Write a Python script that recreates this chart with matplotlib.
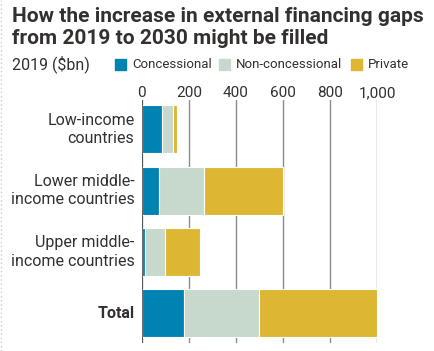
import matplotlib
matplotlib.use('Agg')
import matplotlib.pyplot as plt
from matplotlib.patches import Rectangle

categories = ['Low-income\ncountries', 'Lower middle-\nincome countries',
              'Upper middle-\nincome countries', 'Total']
concessional = [88, 75, 14, 180]
non_concessional = [46, 189, 86, 319]
private = [15, 336, 149, 501]
ticks = [0, 200, 400, 600, 800, 1000]
tick_labels = ['0', '200', '400', '600', '800', '1,000']

series = [('Concessional', concessional, '#0082b3'),
          ('Non-concessional', non_concessional, '#c7d8cd'),
          ('Private', private, '#ddb733')]

ink = '#33302e'
plt.rcParams['font.family'] = ['Roboto', 'DejaVu Sans']

fig = plt.figure(figsize=(4.35, 3.51), dpi=100)
ax = fig.add_axes([141.7 / 435, 1 - 343 / 351, 235.6 / 435, 243 / 351])

ypos = list(range(len(categories)))
left = [0] * len(categories)
for name, vals, col in series:
    ax.barh(ypos, vals, left=left, height=0.785, color=col,
            edgecolor='white', linewidth=0.8, zorder=2)
    left = [a + b for a, b in zip(left, vals)]

ax.set_xlim(0, 1000)
ax.set_ylim(3.49, -0.48)
ax.set_xticks(ticks)
ax.set_xticklabels(tick_labels)
ax.xaxis.tick_top()
ax.tick_params(axis='x', length=0, pad=0, labelsize=11, labelcolor=ink)
ax.grid(axis='x', color='#8c8c8c', linewidth=1, zorder=1)
ax.axvline(0, color='#4d4d4d', linewidth=1.2, zorder=3)
ax.set_yticks([])
for s in ax.spines.values():
    s.set_visible(False)

for y, lab in zip(ypos, categories):
    ax.text(-0.031 * 1000, y, lab, ha='right', va='center', fontsize=11.5,
            color=ink, linespacing=1.3,
            fontweight='bold' if lab == 'Total' else 'normal')

fig.text(12 / 435, 1 - 27 / 351,
         'How the increase in external financing gaps\nfrom 2019 to 2030 might be filled',
         ha='left', va='center', fontsize=15, fontweight='bold', color=ink,
         linespacing=1.2)
fig.text(12 / 435, 1 - 64 / 351, '2019 ($bn)', ha='left', va='center',
         fontsize=11.5, color=ink)

legend_x = [115, 219, 351]
for (name, vals, col), lx in zip(series, legend_x):
    fig.patches.append(Rectangle((lx / 435, 1 - 70 / 351), 11 / 435, 11 / 351,
                                 transform=fig.transFigure, color=col))
    fig.text((lx + 17) / 435, 1 - 64 / 351, name, ha='left', va='center',
             fontsize=9.5, color=ink)

# dotted rule down the left edge
fig.add_artist(plt.Line2D([1.5 / 435, 1.5 / 435], [0, 1], transform=fig.transFigure,
                          color='#cccccc', linewidth=1, linestyle=(0, (1, 2))))

fig.savefig('out.png', dpi=100)
